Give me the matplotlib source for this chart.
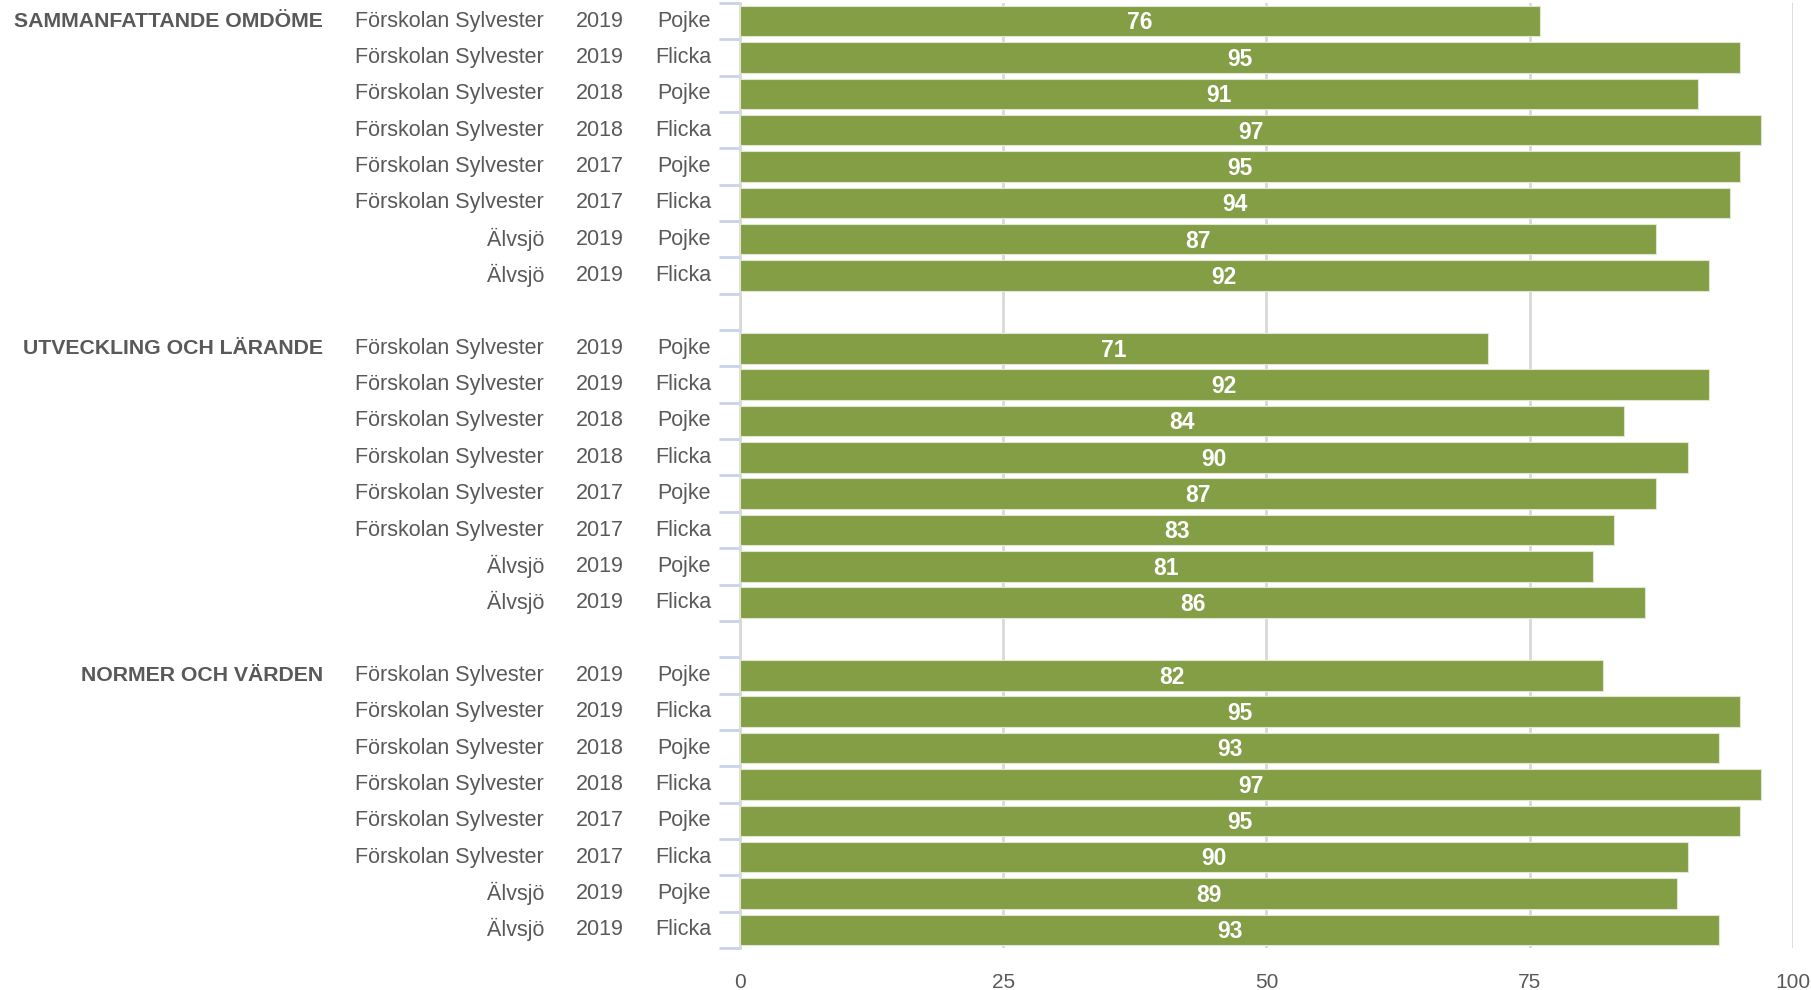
import matplotlib.pyplot as plt
from matplotlib.transforms import blended_transform_factory

plt.rcParams['font.family'] = ['Liberation Sans', 'DejaVu Sans']

groups = ['SAMMANFATTANDE OMDÖME', 'UTVECKLING OCH LÄRANDE', 'NORMER OCH VÄRDEN']
units = ['Förskolan Sylvester'] * 6 + ['Älvsjö'] * 2
years = ['2019', '2019', '2018', '2018', '2017', '2017', '2019', '2019']
genders = ['Pojke', 'Flicka'] * 4
values = [
    [76, 95, 91, 97, 95, 94, 87, 92],
    [71, 92, 84, 90, 87, 83, 81, 86],
    [82, 95, 93, 97, 95, 90, 89, 93],
]

bar_color = '#839e45'
text_color = '#595959'
grid_color = '#d9d9d9'
tick_color = '#c8d2e8'

fig = plt.figure(figsize=(18.11, 9.9), dpi=100)
ax = fig.add_axes([0.4086, 0.0424, 0.5814, 0.9546])

n_slots = len(groups) * 9 - 1
for g, vals in enumerate(values):
    for i, v in enumerate(vals):
        y = g * 9 + i + 0.5
        ax.barh(y, v, height=0.84, color=bar_color, edgecolor='#dfe6d2', linewidth=0.8, zorder=3)
        ax.text(v / 2, y + 0.05, str(v), color='white', fontsize=16.5, fontweight='bold',
                ha='center', va='center', zorder=4)

trans = blended_transform_factory(fig.transFigure, ax.transData)
for g, name in enumerate(groups):
    top = g * 9 + 0.5
    ax.text(0.1784, top, name, transform=trans, ha='right', va='center',
            fontsize=15.3, fontweight='bold', color=text_color)
    for i in range(8):
        y = g * 9 + i + 0.5
        ax.text(0.3004, y, units[i], transform=trans, ha='right', va='center',
                fontsize=15.5, color=text_color)
        ax.text(0.3313, y, years[i], transform=trans, ha='center', va='center',
                fontsize=15.5, color=text_color)
        ax.text(0.3926, y, genders[i], transform=trans, ha='right', va='center',
                fontsize=15.5, color=text_color)

ax.set_xlim(0, 100)
ax.set_ylim(n_slots, 0)
ax.set_xticks([0, 25, 50, 75, 100])
ax.tick_params(axis='x', length=0, pad=18, labelsize=15, labelcolor=text_color)
ax.set_yticks(range(n_slots + 1))
ax.set_yticklabels([])
ax.tick_params(axis='y', length=15, width=2, color=tick_color)

ax.grid(axis='x', color=grid_color, linewidth=2, zorder=0)
ax.set_axisbelow(True)
for side in ['top', 'right', 'bottom']:
    ax.spines[side].set_visible(False)
ax.spines['left'].set_color(grid_color)
ax.spines['left'].set_linewidth(2)

fig.savefig('out.png', dpi=100)
